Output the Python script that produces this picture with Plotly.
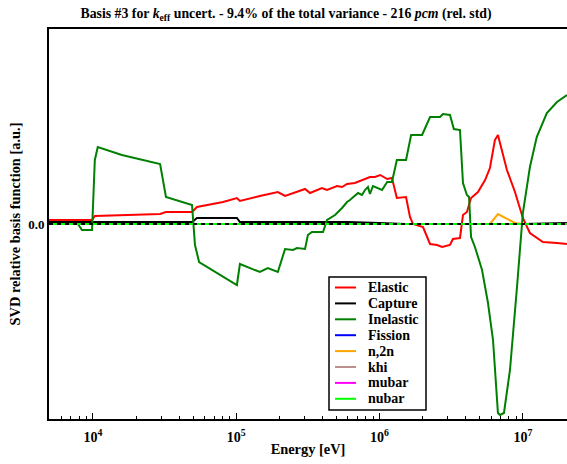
import plotly.graph_objects as go

# ---- data (energy in eV, relative basis function in arbitrary units) ----
inelastic_E = [4.93e3, 7.85e3, 8.38e3, 9.85e3, 1.03e4, 1.08e4, 1.59e4, 2.20e4, 2.94e4, 3.23e4,
               4.91e4, 5.15e4, 5.50e4, 1.01e5, 1.06e5, 1.46e5, 1.66e5, 1.95e5, 2.19e5, 2.49e5,
               2.65e5, 3.02e5, 3.16e5, 3.37e5, 4.03e5, 4.30e5, 4.89e5, 5.47e5, 5.93e5, 6.21e5,
               7.07e5, 7.54e5, 7.91e5, 8.30e5, 8.57e5, 8.99e5, 1.04e6, 1.13e6, 1.22e6, 1.32e6,
               1.53e6, 1.66e6, 1.98e6, 2.25e6, 2.64e6, 2.77e6, 3.10e6, 3.30e6, 3.64e6, 3.82e6,
               4.07e6, 4.21e6, 4.35e6, 4.63e6, 5.19e6, 5.71e6, 6.19e6, 6.70e6, 6.92e6, 7.38e6,
               8.13e6, 9.10e6, 1.00e7, 1.12e7, 1.25e7, 1.47e7, 1.73e7, 2.03e7]
inelastic_v = [0.0, 0.0, -0.06, -0.06, 0.64, 0.77, 0.69, 0.64, 0.60, 0.27,
               0.19, -0.21, -0.38, -0.61, -0.40, -0.48, -0.44, -0.48, -0.25, -0.26,
               -0.24, -0.25, -0.11, -0.08, -0.08, 0.04, 0.09, 0.16, 0.22, 0.24,
               0.31, 0.29, 0.34, 0.37, 0.30, 0.38, 0.34, 0.42, 0.42, 0.64,
               0.64, 0.89, 0.89, 1.07, 1.07, 1.10, 1.09, 0.95, 0.94, 0.41,
               0.29, 0.27, -0.13, -0.23, -0.46, -0.79, -1.16, -1.89, -1.91, -1.89,
               -1.46, -0.63, 0.11, 0.57, 0.87, 1.11, 1.22, 1.29]

elastic_E = [4.93e3, 9.85e3, 1.03e4, 2.94e4, 3.23e4, 4.91e4, 5.32e4, 8.08e4, 1.01e5, 1.06e5,
             1.46e5, 1.95e5, 2.19e5, 2.79e5, 3.02e5, 3.27e5, 3.96e5, 4.30e5, 5.05e5, 5.47e5,
             5.93e5, 6.73e5, 7.54e5, 8.57e5, 9.29e5, 1.01e6, 1.13e6, 1.22e6, 1.32e6, 1.53e6,
             1.63e6, 1.71e6, 2.01e6, 2.25e6, 2.52e6, 2.73e6, 3.10e6, 3.25e6, 3.64e6, 3.82e6,
             4.07e6, 4.35e6, 4.86e6, 5.45e6, 5.89e6, 6.38e6, 6.70e6, 7.74e6, 8.81e6, 1.00e7,
             1.12e7, 1.38e7, 1.73e7, 2.03e7]
elastic_v = [0.04, 0.04, 0.08, 0.10, 0.12, 0.12, 0.17, 0.22, 0.26, 0.23,
             0.28, 0.32, 0.28, 0.33, 0.35, 0.31, 0.36, 0.34, 0.38, 0.37,
             0.40, 0.41, 0.44, 0.47, 0.47, 0.49, 0.45, 0.46, 0.26, 0.27,
             0.07, 0.00, -0.03, -0.20, -0.21, -0.23, -0.21, -0.15, -0.14, 0.09,
             0.12, 0.26, 0.32, 0.44, 0.56, 0.84, 0.89, 0.54, 0.32, 0.06,
             -0.09, -0.18, -0.19, -0.20]

capture_E = [4.93e3, 4.91e4, 5.32e4, 1.01e5, 1.06e5, 6.0e5, 1.0e6, 1.5e6, 1.0e7, 2.03e7]
capture_v = [0.02, 0.02, 0.06, 0.06, 0.02, 0.02, 0.01, 0.0, 0.0, 0.01]

n2n_E = [4.93e3, 5.89e6, 6.70e6, 8.81e6, 1.00e7, 2.03e7]
n2n_v = [0.0, 0.0, 0.10, 0.01, 0.0, 0.0]

zero_E = [4.93e3, 2.03e7]
fission_v = [0.0, 0.0]
khi_v = [0.0, 0.0]
mubar_v = [0.0, 0.0]
nubar_v = [0.0, 0.0]

series_names = ["Elastic", "Capture", "Inelastic", "Fission", "n,2n", "khi", "mubar", "nubar"]
series_E = [elastic_E, capture_E, inelastic_E, zero_E, n2n_E, zero_E, zero_E, zero_E]
series_v = [elastic_v, capture_v, inelastic_v, fission_v, n2n_v, khi_v, mubar_v, nubar_v]
series_colors = ["#ff0000", "#000000", "#008000", "#0000ff", "#ffa500", "#bc8f8f", "#ff00ff", "#00ff00"]

FONT = "Liberation Serif"
W, H = 567, 464
ML, MR, MT, MB = 49, 0, 29, 45
PW, PH = W - ML - MR, H - MT - MB


def px(x):
    return (x - ML) / PW


def py(y):
    return (H - MB - y) / PH


fig = go.Figure()
for name, xs, ys, col in zip(series_names, series_E, series_v, series_colors):
    fig.add_trace(go.Scatter(x=xs, y=ys, mode="lines", name=name, showlegend=False,
                             line=dict(color=col, width=2)))

# dashed zero reference line
fig.add_trace(go.Scatter(x=zero_E, y=[0, 0], mode="lines", showlegend=False,
                         line=dict(color="black", width=2, dash="4px,4px")))

# manual legend (compact, like the reference)
shapes = [dict(type="rect", xref="paper", yref="paper",
               x0=px(329), x1=px(426), y0=py(410), y1=py(277),
               line=dict(color="black", width=1.5), fillcolor="white", layer="above")]
annotations = []
row0, dy = 287.5, 15.9
for i, (name, col) in enumerate(zip(series_names, series_colors)):
    yc = row0 + i * dy
    shapes.append(dict(type="line", xref="paper", yref="paper",
                       x0=px(335), x1=px(356), y0=py(yc), y1=py(yc),
                       line=dict(color=col, width=2), layer="above"))
    annotations.append(dict(text=name, xref="paper", yref="paper", x=px(366), y=py(yc),
                            xanchor="left", yanchor="middle", showarrow=False,
                            font=dict(family=FONT, size=14, weight="bold", color="black")))

fig.update_layout(
    width=W, height=H,
    margin=dict(l=ML, r=MR, t=MT, b=MB, autoexpand=False),
    paper_bgcolor="white", plot_bgcolor="white",
    font=dict(family=FONT, size=13, color="black", weight="bold"),
    title=dict(text="Basis #3 for <i>k</i><sub>eff</sub> uncert. - 9.4% of the total variance - 216 <i>pcm</i> (rel. std)",
               x=286/567, xanchor="center", xref="container",
               y=1 - 13/464, yanchor="middle", automargin=False,
               font=dict(family=FONT, size=13.8, weight="bold")),
    showlegend=False,
    shapes=shapes,
    annotations=annotations,
)

fig.update_xaxes(
    type="log", range=[3.693, 7.308], automargin=False,
    showline=True, linecolor="black", linewidth=2, mirror=True,
    showgrid=False, zeroline=False,
    tickvals=[1e4, 1e5, 1e6, 1e7],
    ticktext=["10<sup>4</sup>", "10<sup>5</sup>", "10<sup>6</sup>", "10<sup>7</sup>"],
    ticks="inside", ticklen=6, tickwidth=1, tickcolor="black",
    ticklabelstandoff=4,
    minor=dict(tickvals=[m * 10**d for d in range(3, 8) for m in range(2, 10)],
               ticks="inside", ticklen=3, tickwidth=1, tickcolor="black", showgrid=False),
    tickfont=dict(family=FONT, size=14, weight="bold"),
    title=dict(text="Energy [eV]", font=dict(family=FONT, size=14.4, weight="bold"), standoff=0),
)
fig.update_yaxes(
    range=[-1.95, 1.95], automargin=False,
    showline=True, linecolor="black", linewidth=2, mirror=False,
    showgrid=False, zeroline=False,
    tickvals=[0], ticktext=["0.0"], ticks="",
    tickfont=dict(family=FONT, size=13, weight="bold"),
    title=dict(text="SVD relative basis function [a.u.]",
               font=dict(family=FONT, size=14.4, weight="bold"), standoff=4),
)

fig.write_html("out.html", config={"displayModeBar": False},
               post_script="document.body.style.margin='0px';document.body.style.overflow='hidden';")
